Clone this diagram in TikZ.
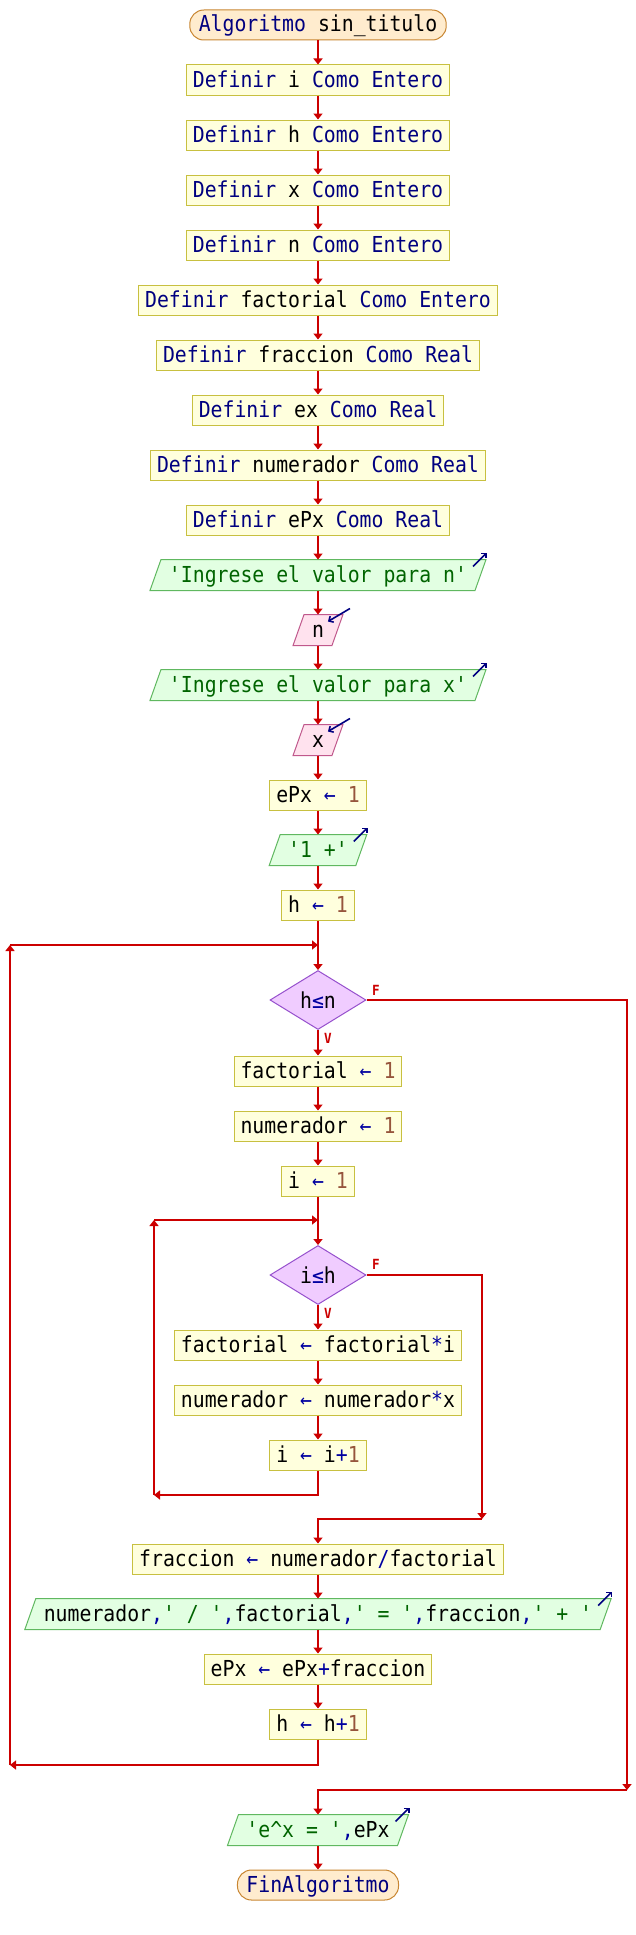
\documentclass[tikz,border=0pt]{standalone}
\usepackage{fontspec}
\setmonofont[FakeStretch=0.9]{DejaVu Sans Mono}
\usetikzlibrary{arrows.meta,shapes.geometric,backgrounds}
\definecolor{kwc}{RGB}{0,0,128}
\definecolor{stc}{RGB}{0,100,0}
\definecolor{nmc}{RGB}{150,85,60}
\definecolor{opc}{RGB}{0,0,160}
\definecolor{arrc}{RGB}{204,0,0}
\definecolor{procF}{RGB}{255,255,221}
\definecolor{procB}{RGB}{200,192,64}
\definecolor{termF}{RGB}{255,236,206}
\definecolor{termB}{RGB}{200,134,50}
\definecolor{outF}{RGB}{226,255,226}
\definecolor{outB}{RGB}{96,184,96}
\definecolor{inF}{RGB}{255,226,238}
\definecolor{inB}{RGB}{192,88,140}
\definecolor{condF}{RGB}{240,204,255}
\definecolor{condB}{RGB}{150,80,205}
\definecolor{icoc}{RGB}{0,0,128}
\newcommand\kw[1]{\textcolor{kwc}{#1}}
\newcommand\st[1]{\textcolor{stc}{#1}}
\newcommand\nm[1]{\textcolor{nmc}{#1}}
\newcommand\op[1]{\textcolor{opc}{#1}}
\newcommand\pfont{\ttfamily\fontsize{22}{26}\selectfont}
\newcommand\iobox[4]{%
  \node[io] (#1) at (318,#2) {#4};
  \begin{scope}[on background layer]
    \path[#3] ([xshift=-5.5pt]#1.south west) -- ([xshift=5.5pt]#1.north west) -- ([xshift=5.5pt]#1.north east) -- ([xshift=-5.5pt]#1.south east) -- cycle;
  \end{scope}}
\newcommand\outicon[1]{\draw[ico] ([shift={(-7.5,7)}]#1.north east) -- ([shift={(6.5,-7)}]#1.north east);}
\newcommand\inicon[1]{\draw[ico] ([shift={(12.5,-6)}]#1.north east) -- ([shift={(-9.5,7)}]#1.north east);}
\tikzset{
  box/.style={font=\pfont, minimum height=30pt, inner ysep=0pt, text height=19pt, text depth=5pt, line width=1pt},
  proc/.style={box, draw=procB, fill=procF, inner xsep=6.5pt},
  term/.style={box, draw=termB, fill=termF, rounded corners=14pt, inner xsep=9pt},
  io/.style={box, inner xsep=13pt},
  outsty/.style={fill=outF, draw=outB, line width=1pt},
  insty/.style={fill=inF, draw=inB, line width=1pt},
  cond/.style={diamond, font=\pfont, draw=condB, fill=condF, line width=1pt, minimum width=96pt, minimum height=59pt, inner sep=0pt},
  arr/.style={draw=arrc, line width=2.2pt, -{Triangle[width=9pt,length=6pt]}},
  lnk/.style={draw=arrc, line width=2.2pt},
  lab/.style={text=arrc, font=\ttfamily\bfseries\fontsize{14}{14}\selectfont, inner sep=0pt},
  ico/.style={draw=icoc, line width=1.6pt, -{Straight Barb[length=3.5pt,width=7pt]}}
}
\begin{document}
\begin{tikzpicture}[x=1pt,y=-1pt]
\useasboundingbox (0,0) rectangle (636,1935);
\begin{scope}[on background layer]
\fill[white] (0,0) rectangle (636,1935);
\end{scope}
% top sequence
\node[term] (t0) at (318,25) {\kw{Algoritmo} sin\_titulo};
\node[proc] (d1) at (318,80) {\kw{Definir} i \kw{Como Entero}};
\node[proc] (d2) at (318,135) {\kw{Definir} h \kw{Como Entero}};
\node[proc] (d3) at (318,190) {\kw{Definir} x \kw{Como Entero}};
\node[proc] (d4) at (318,245) {\kw{Definir} n \kw{Como Entero}};
\node[proc] (d5) at (318,300) {\kw{Definir} factorial \kw{Como Entero}};
\node[proc] (d6) at (318,355) {\kw{Definir} fraccion \kw{Como Real}};
\node[proc] (d7) at (318,410) {\kw{Definir} ex \kw{Como Real}};
\node[proc] (d8) at (318,465) {\kw{Definir} numerador \kw{Como Real}};
\node[proc] (d9) at (318,520) {\kw{Definir} ePx \kw{Como Real}};
\iobox{o1}{575}{outsty}{\st{'Ingrese el valor para n'}}
\iobox{in1}{630}{insty}{n}
\iobox{o2}{685}{outsty}{\st{'Ingrese el valor para x'}}
\iobox{in2}{740}{insty}{x}
\node[proc] (a1) at (318,795) {ePx \op{←} \nm{1}};
\iobox{o3}{850}{outsty}{\st{'1 +'}}
\node[proc] (a2) at (318,905) {h \op{←} \nm{1}};
% outer loop
\node[cond] (c1) at (318,1000) {h\op{≤}n};
\node[proc] (a3) at (318,1071) {factorial \op{←} \nm{1}};
\node[proc] (a4) at (318,1126) {numerador \op{←} \nm{1}};
\node[proc] (a5) at (318,1181) {i \op{←} \nm{1}};
% inner loop
\node[cond] (c2) at (318,1275) {i\op{≤}h};
\node[proc] (a6) at (318,1345) {factorial \op{←} factorial\op{*}i};
\node[proc] (a7) at (318,1400) {numerador \op{←} numerador\op{*}x};
\node[proc] (a8) at (318,1455) {i \op{←} i\op{+}\nm{1}};
\node[proc] (a9) at (318,1559) {fraccion \op{←} numerador\op{/}factorial};
\iobox{o4}{1614}{outsty}{numerador\op{,}\st{' / '}\op{,}factorial\op{,}\st{' = '}\op{,}fraccion\op{,}\st{' + '}}
\node[proc] (a10) at (318,1669) {ePx \op{←} ePx\op{+}fraccion};
\node[proc] (a11) at (318,1724) {h \op{←} h\op{+}\nm{1}};
\iobox{o5}{1830}{outsty}{\st{'e\textasciicircum x = '}\op{,}ePx}
\node[term] (t1) at (318,1885) {\kw{FinAlgoritmo}};
% io icons
\outicon{o1} \outicon{o2} \outicon{o3} \outicon{o4} \outicon{o5}
\inicon{in1} \inicon{in2}
% labels
\node[lab] (f1) at (376,990) {F};
\node[lab] (v1) at (328,1038) {V};
\node[lab] (f2) at (376,1264) {F};
\node[lab] (v2) at (328,1313) {V};
% coordinates
\coordinate (oR) at (318,1765);
\coordinate (oL) at (10,1765);
\coordinate (oTL) at (10,945);
\coordinate (oT) at (318,945);
\coordinate (oM) at (627,1790);
\coordinate (oMc) at (318,1790);
\coordinate (iR) at (318,1495);
\coordinate (iL) at (154,1495);
\coordinate (iTL) at (154,1220);
\coordinate (iT) at (318,1220);
\coordinate (iM) at (482,1519);
\coordinate (iMc) at (318,1519);
% chain
\foreach \a/\b in {t0/d1,d1/d2,d2/d3,d3/d4,d4/d5,d5/d6,d6/d7,d7/d8,d8/d9,d9/o1,o1/in1,in1/o2,o2/in2,in2/a1,a1/o3,o3/a2,a2/c1,c1/a3,a3/a4,a4/a5,a5/c2,c2/a6,a6/a7,a7/a8,a9/o4,o4/a10,a10/a11,o5/t1}
  \draw[arr] (\a.south) -- (\b.north);
% inner loop back
\draw[arr] (a8.south) -- (iR) -- (iL);
\draw[arr] (iL) -- (iTL);
\draw[arr] (iTL) -- (iT);
% inner false
\draw[arr] (c2.east) -| (iM);
\draw[arr] (iM) -- (iMc) -- (a9.north);
% outer loop back
\draw[arr] (a11.south) -- (oR) -- (oL);
\draw[arr] (oL) -- (oTL);
\draw[arr] (oTL) -- (oT);
% outer false
\draw[arr] (c1.east) -| (oM);
\draw[arr] (oM) -- (oMc) -- (o5.north);
\end{tikzpicture}
\end{document}
